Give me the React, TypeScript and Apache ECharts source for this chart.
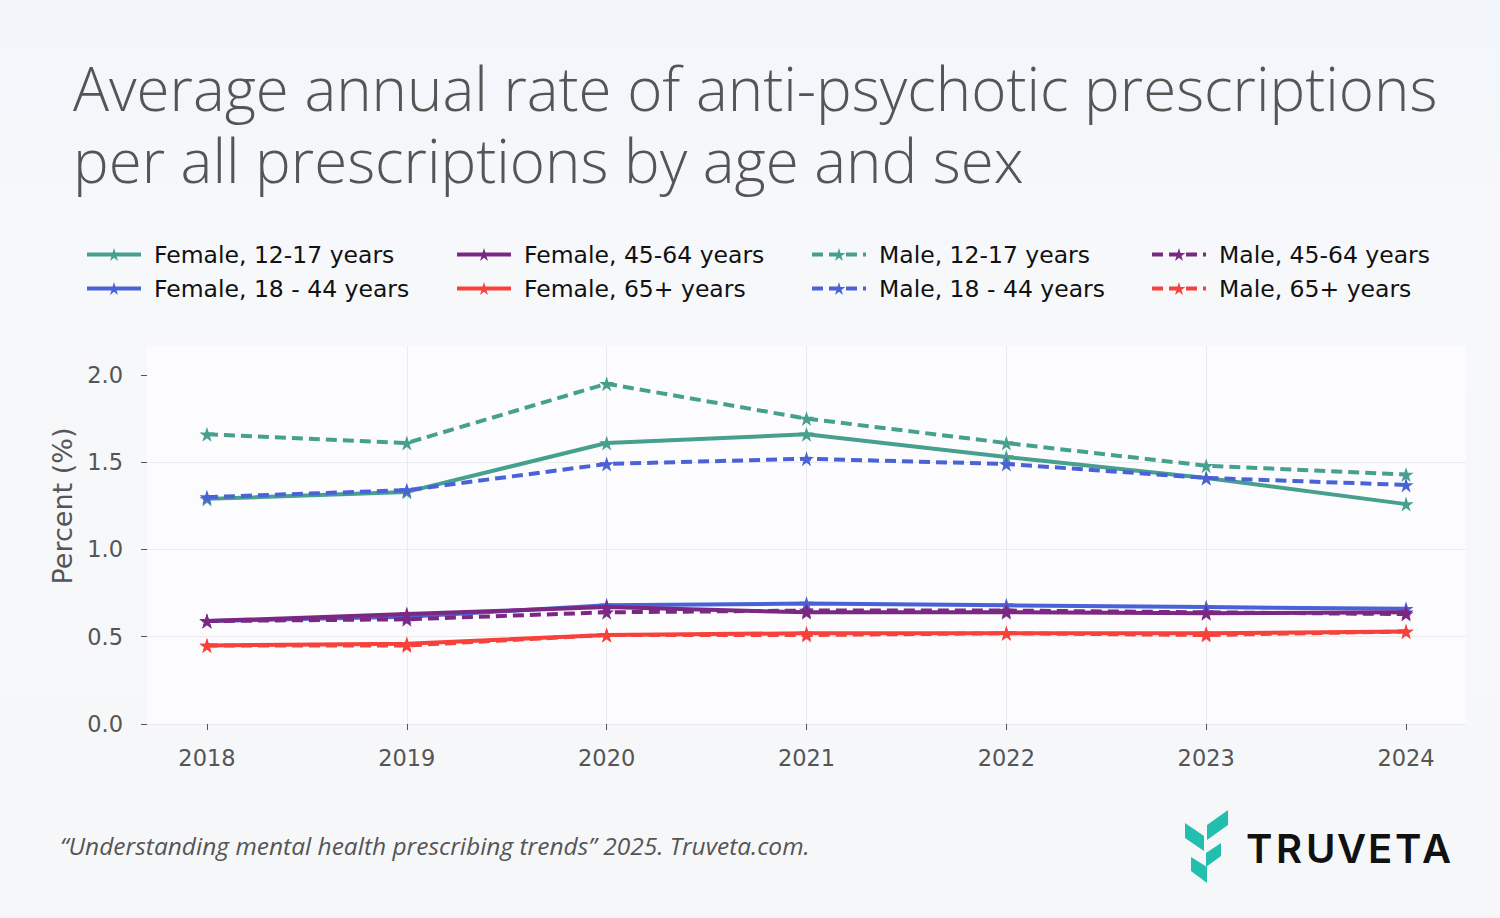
import React, { useEffect, useRef } from "react";
import * as echarts from "echarts";

const years = [2018, 2019, 2020, 2021, 2022, 2023, 2024];
const yTicks = [0, 0.5, 1.0, 1.5, 2.0];

const female12 = [1.29, 1.33, 1.61, 1.66, 1.53, 1.41, 1.26];
const female18 = [0.59, 0.615, 0.68, 0.69, 0.68, 0.67, 0.66];
const female45 = [0.59, 0.63, 0.67, 0.64, 0.64, 0.635, 0.64];
const female65 = [0.45, 0.46, 0.51, 0.52, 0.52, 0.52, 0.53];
const male12 = [1.66, 1.61, 1.95, 1.75, 1.61, 1.48, 1.43];
const male18 = [1.3, 1.34, 1.49, 1.52, 1.49, 1.41, 1.37];
const male45 = [0.59, 0.6, 0.64, 0.65, 0.65, 0.64, 0.63];
const male65 = [0.45, 0.45, 0.51, 0.51, 0.52, 0.51, 0.53];

const seriesNames = [
  "Female, 12-17 years",
  "Female, 18 - 44 years",
  "Female, 45-64 years",
  "Female, 65+ years",
  "Male, 12-17 years",
  "Male, 18 - 44 years",
  "Male, 45-64 years",
  "Male, 65+ years",
];
const seriesData = [female12, female18, female45, female65, male12, male18, male45, male65];
const colors = ["#46a08d", "#4a62d8", "#7b2882", "#f7413b"];

const logoLetters = ["T", "R", "U", "V", "E", "T", "A"];
const logoLetterLefts = [1246, 1276, 1306, 1337, 1368, 1395, 1422];

const STAR =
  "path://M50,0 L61.2,34.5 L97.6,34.5 L68.2,55.9 L79.4,90.5 L50,69.1 L20.6,90.5 L31.8,55.9 L2.4,34.5 L38.8,34.5 Z";

export default function App() {
  const ref = useRef<HTMLDivElement>(null);
  useEffect(() => {
    document.body.style.margin = "0";
    const chart = echarts.init(ref.current!, null, { renderer: "svg" });
    const series = seriesNames.map((name, i) => ({
      name,
      type: "line",
      data: years.map((y, j) => [y, seriesData[i][j]]),
      symbol: STAR,
      symbolSize: 15,
      color: colors[i % 4],
      lineStyle: {
        width: 4,
        color: colors[i % 4],
        type: i >= 4 ? [11, 6] : "solid",
      },
      itemStyle: { color: colors[i % 4] },
      z: 2 + i,
    }));
    const legendCols = [85, 455, 810, 1150];
    const legends = legendCols.map((left, c) => ({
      orient: "vertical",
      left,
      top: 241,
      padding: 0,
      itemGap: 7,
      itemWidth: 54,
      itemHeight: 16,
      lineStyle: { width: 4 },
      data: [seriesNames[c * 2], seriesNames[c * 2 + 1]],
      selectedMode: false,
      textStyle: {
        fontFamily: "DejaVu Sans",
        fontSize: 23.5,
        lineHeight: 27,
        color: "#111",
        padding: [0, 0, 0, 8],
      },
    }));
    const logoTexts = logoLetters.map((ch, i) => ({
      type: "text",
      left: logoLetterLefts[i],
      top: 828,
      style: {
        text: ch,
        fontFamily: "Inter",
        fontWeight: 600,
        fontSize: 40,
        fill: "#111111",
      },
    }));
    chart.setOption({
      animation: false,
      backgroundColor: "transparent",
      title: {
        text: "Average annual rate of anti-psychotic prescriptions\nper all prescriptions by age and sex",
        left: 73,
        top: 52,
        padding: 0,
        textStyle: {
          fontFamily: "Open Sans",
          fontWeight: 300,
          fontSize: 60,
          lineHeight: 72,
          color: "#555555",
        },
      },
      legend: legends,
      grid: {
        left: 147,
        right: 34,
        top: 346,
        bottom: 194,
        show: true,
        backgroundColor: "#fcfcfe",
        borderWidth: 0,
      },
      xAxis: {
        type: "value",
        min: 2017.7,
        max: 2024.3,
        axisLine: { show: false },
        axisTick: {
          show: true,
          length: 6,
          lineStyle: { color: "#555" },
          customValues: years,
        },
        axisLabel: {
          customValues: years,
          margin: 22,
          fontFamily: "DejaVu Sans",
          fontSize: 22.5,
          color: "#555",
          formatter: (v: number) => String(Math.round(v)),
        },
        splitLine: {
          show: true,
          showMinLine: false,
          showMaxLine: false,
          lineStyle: { color: "#ebebeb", width: 1 },
        },
      },
      yAxis: {
        type: "value",
        min: 0,
        max: 2.166,
        axisLine: { show: false },
        axisTick: {
          show: true,
          length: 6,
          lineStyle: { color: "#555" },
          customValues: yTicks,
        },
        axisLabel: {
          customValues: yTicks,
          margin: 24,
          fontFamily: "DejaVu Sans",
          fontSize: 22.5,
          color: "#555",
          formatter: (v: number) => v.toFixed(1),
        },
        splitLine: {
          show: true,
          showMinLine: true,
          showMaxLine: false,
          lineStyle: { color: "#ebebeb", width: 1 },
        },
      },
      graphic: [
        {
          type: "text",
          x: 62,
          y: 506,
          rotation: Math.PI / 2,
          style: {
            text: "Percent (%)",
            fontFamily: "DejaVu Sans",
            fontSize: 27,
            fill: "#555555",
            align: "center",
            verticalAlign: "middle",
          },
        },
        {
          type: "text",
          left: 60,
          top: 833,
          style: {
            text: "\u201cUnderstanding mental health prescribing trends\u201d 2025. Truveta.com.",
            fontFamily: "Open Sans",
            fontStyle: "italic",
            fontSize: 24.5,
            fill: "#555555",
          },
        },
        ...logoTexts,
        {
          type: "polygon",
          shape: { points: [[1185, 823], [1204, 836], [1204, 851], [1185, 838]] },
          style: { fill: "#22bfae" },
        },
        {
          type: "polygon",
          shape: { points: [[1207, 825], [1228, 810], [1228, 825], [1207, 840]] },
          style: { fill: "#22bfae" },
        },
        {
          type: "polygon",
          shape: { points: [[1206, 853], [1221, 843], [1221, 856], [1206, 867]] },
          style: { fill: "#22bfae" },
        },
        {
          type: "polygon",
          shape: { points: [[1191, 857], [1207, 867], [1207, 883], [1191, 871]] },
          style: { fill: "#22bfae" },
        },
      ],
      series,
    });
    return () => chart.dispose();
  }, []);
  return (
    <div
      style={{
        position: "absolute",
        left: 0,
        top: 0,
        width: 1500,
        height: 918,
        background: "linear-gradient(180deg, #f2f6fa 0%, #f7f8fa 30%, #f6f7f9 100%)",
      }}
    >
      <div ref={ref} style={{ width: 1500, height: 918 }} />
    </div>
  );
}
